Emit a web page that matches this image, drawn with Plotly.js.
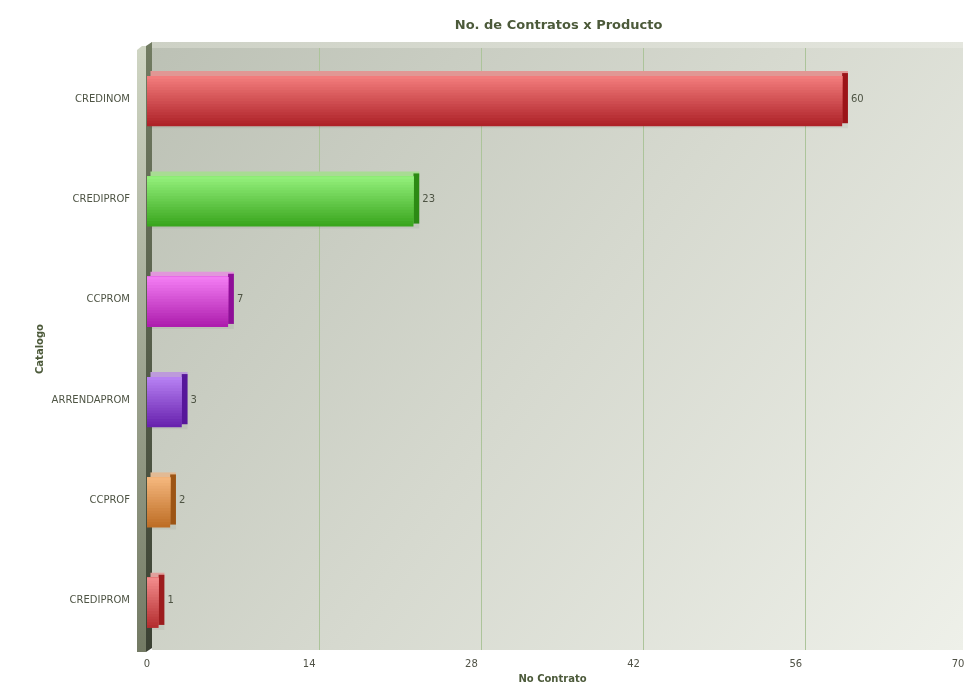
<!DOCTYPE html>
<html>
<head>
<meta charset="utf-8">
<script src="https://cdn.plot.ly/plotly-3.0.1.min.js"></script>
<style>
  body { margin: 0; background: #fff; }
  #wrap { position: relative; width: 980px; height: 700px; }
  #bg, #chart { position: absolute; left: 0; top: 0; }
</style>
</head>
<body>
<div id="wrap">
  <canvas id="bg" width="980" height="700"></canvas>
  <div id="chart" style="width:980px;height:700px;"></div>
</div>
<script>
// data
const categories = ["CREDINOM", "CREDIPROF", "CCPROM", "ARRENDAPROM", "CCPROF", "CREDIPROM"]
const contratos = [60, 23, 7, 3, 2, 1]
const xTicks = [0, 14, 28, 42, 56, 70]

// bar colours: light (top of front), dark (bottom of front), side face
const lightColors = ["#f27c7c", "#92ef7a", "#f27cf2", "#b680f2", "#f4b67c", "#f28a8a"]
const darkColors = ["#ae2228", "#3aa61e", "#ae1eae", "#6822ae", "#be6e26", "#b42e30"]
const sideColors = ["#9c1418", "#2c8a14", "#8e0e98", "#56169a", "#9c5414", "#9c1c1e"]

const textColor = "#4c5a3a"
const font = "DejaVu Sans, Verdana, sans-serif"

// depth of the 3D effect, in axis units (about 10px on the back wall)
const wallShift = 0.86

// background: plot wall gradient, left wall, top edge
function drawBackground() {
    let c = document.getElementById("bg").getContext("2d")
    let g = c.createLinearGradient(147, 48, 963, 650)
    g.addColorStop(0, "#bcc1b5")
    g.addColorStop(0.5, "#d6d9cf")
    g.addColorStop(1, "#eef0e9")
    c.fillStyle = g
    c.fillRect(152, 48, 811, 602)

    // top edge
    let gt = c.createLinearGradient(152, 0, 963, 0)
    gt.addColorStop(0, "#cdd1c5")
    gt.addColorStop(1, "#e4e6de")
    c.fillStyle = gt
    c.beginPath()
    c.moveTo(146, 48); c.lineTo(152, 42); c.lineTo(963, 42); c.lineTo(963, 48)
    c.closePath(); c.fill()

    // left wall light face
    let gl = c.createLinearGradient(0, 48, 0, 652)
    gl.addColorStop(0, "#cfd5c3")
    gl.addColorStop(1, "#737a64")
    c.fillStyle = gl
    c.beginPath()
    c.moveTo(137, 50); c.lineTo(142, 46); c.lineTo(146, 46); c.lineTo(146, 652); c.lineTo(137, 652)
    c.closePath(); c.fill()

    // left wall dark face
    let gd = c.createLinearGradient(0, 42, 0, 652)
    gd.addColorStop(0, "#727c62")
    gd.addColorStop(1, "#3b4133")
    c.fillStyle = gd
    c.beginPath()
    c.moveTo(146, 46); c.lineTo(152, 42); c.lineTo(152, 648); c.lineTo(146, 652)
    c.closePath(); c.fill()
}
drawBackground()

function hex(h) {
    return [1, 3, 5].map(i => parseInt(h.substr(i, 2), 16))
}
function mix(a, b, t) {
    let A = hex(a), B = hex(b)
    return "rgb(" + A.map((v, i) => Math.round(v + (B[i] - v) * t)).join(",") + ")"
}

let traces = []

// invisible trace that carries the back-wall grid axis
traces.push({
    type: "scatter", mode: "markers", x: [null], y: [categories[0]], xaxis: "x2",
    marker: { opacity: 0 }, hoverinfo: "skip", showlegend: false
})

// soft shadow
traces.push({
    type: "bar", orientation: "h", y: categories, x: contratos.map(v => v + 0.3),
    base: 0.2, offset: -0.25, width: 0.55,
    marker: { color: "rgba(60,70,50,0.07)", line: { width: 0 } },
    hoverinfo: "skip", showlegend: false
})

// top face of each bar
traces.push({
    type: "bar", orientation: "h", y: categories, x: contratos.map(v => v + 0.2),
    base: 0.3, offset: -0.27, width: 0.055,
    marker: { color: lightColors.map(c => mix(c, "#c8c0b8", 0.4)), line: { width: 0 } },
    hoverinfo: "skip", showlegend: false
})

// side face with the value label
traces.push({
    type: "bar", orientation: "h", y: categories, x: contratos.map(() => 0.5),
    base: contratos, offset: -0.25, width: 0.5,
    marker: { color: sideColors, line: { width: 0 } },
    text: contratos.map(String), textposition: "outside", cliponaxis: false,
    textfont: { family: font, size: 10, color: "#4e5444" },
    hoverinfo: "skip", showlegend: false
})

// front face: stacked layers for a vertical gradient
const steps = 18
for (let k = 0; k < steps; k++) {
    let t = k / (steps - 1)
    traces.push({
        type: "bar", orientation: "h", y: categories, x: contratos,
        offset: -0.22, width: 0.5 * (1 - k / steps),
        marker: { color: darkColors.map((d, i) => mix(d, lightColors[i], t)), line: { width: 0 } },
        hoverinfo: "skip", showlegend: false
    })
}

let layout = {
    width: 980, height: 700,
    margin: { l: 147, r: 22, t: 48, b: 50 },
    paper_bgcolor: "rgba(0,0,0,0)",
    plot_bgcolor: "rgba(0,0,0,0)",
    barmode: "overlay",
    showlegend: false,
    font: { family: font, size: 10, color: textColor },
    title: {
        text: "<b>No. de Contratos x Producto</b>",
        font: { family: font, size: 13, color: textColor },
        x: 0.57, xanchor: "center", y: 0.965, yanchor: "middle"
    },
    xaxis: {
        range: [0, 70], tickvals: xTicks, ticktext: xTicks.map(String),
        showgrid: false, zeroline: false,
        showline: false, ticks: "outside", ticklen: 4, tickcolor: "rgba(0,0,0,0)",
        tickfont: { family: font, size: 10, color: "#505246" },
        title: { text: "<b>No Contrato</b>", font: { family: font, size: 10, color: textColor }, standoff: 6 },
        fixedrange: true
    },
    // grid lines sit on the back wall, pushed right by the depth
    xaxis2: {
        overlaying: "x", anchor: "y", side: "bottom",
        range: [-wallShift, 70 - wallShift], tickvals: xTicks.slice(1, 5),
        showgrid: true, gridcolor: "#acc49a", gridwidth: 1, zeroline: false,
        showline: false, showticklabels: false, ticks: "", fixedrange: true
    },
    yaxis: {
        type: "category", categoryorder: "array", categoryarray: categories,
        autorange: "reversed", showgrid: false, zeroline: false, showline: false,
        ticks: "outside", ticklen: 14, tickcolor: "rgba(0,0,0,0)",
        tickfont: { family: font, size: 10, color: "#4e5444" },
        title: { text: "<b>Catalogo</b>", font: { family: font, size: 10, color: textColor }, standoff: 6 },
        fixedrange: true
    }
}

Plotly.newPlot("chart", traces, layout, { displayModeBar: false, staticPlot: true })
</script>
</body>
</html>
